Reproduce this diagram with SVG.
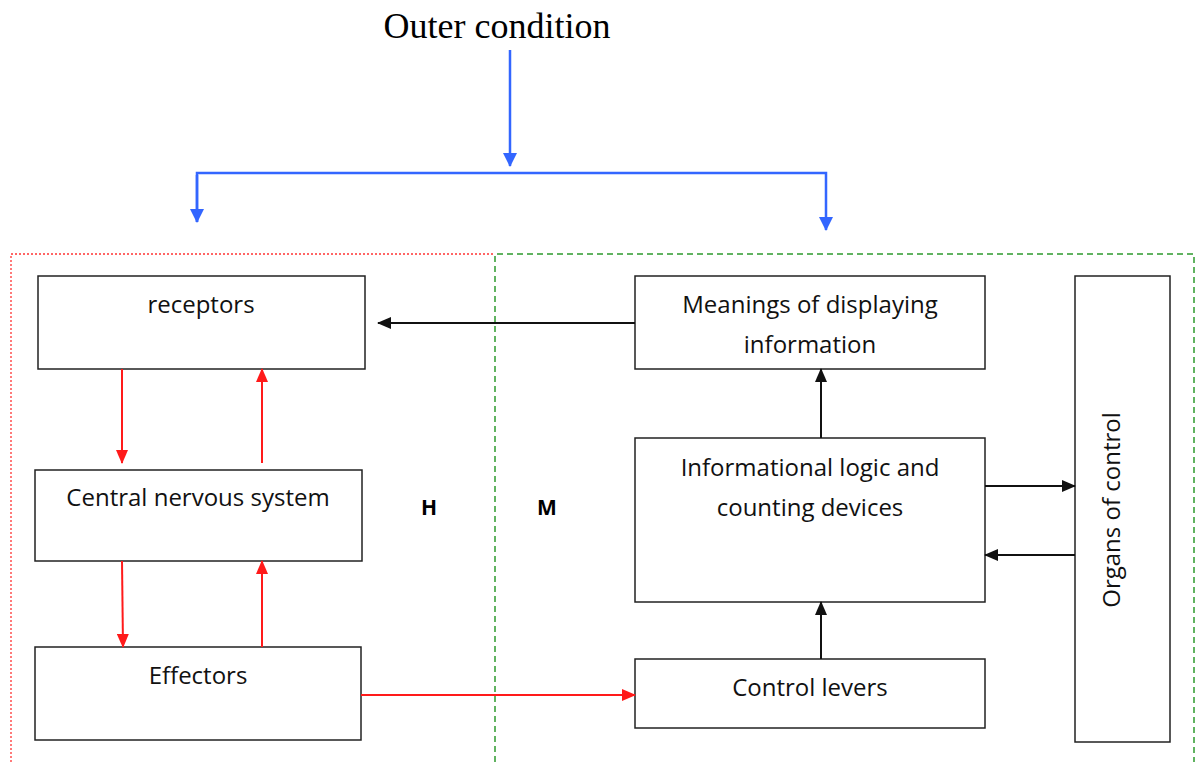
<svg xmlns="http://www.w3.org/2000/svg" width="1200" height="762" viewBox="0 0 1200 762">
  <style>
    .box { fill: #ffffff; stroke: #222222; stroke-width: 1.5; }
    .lbl { font-family: "Open Sans", "Liberation Sans", sans-serif; font-size: 24px; fill: #111111; text-anchor: middle; }
    .side { font-family: "Open Sans", "Liberation Sans", sans-serif; font-size: 21px; font-weight: bold; fill: #000000; text-anchor: middle; }
    .red { stroke: #ff1a1a; stroke-width: 2; fill: none; }
    .blk { stroke: #111111; stroke-width: 2; fill: none; }
    .blue { stroke: #3366ff; stroke-width: 2.5; fill: none; }
  </style>
  <defs>
    <marker id="ahRed" markerWidth="14" markerHeight="12" refX="13" refY="6" orient="auto" markerUnits="userSpaceOnUse" viewBox="0 0 14 12">
      <path d="M0,0 L14,6 L0,12 z" fill="#ff1a1a"/>
    </marker>
    <marker id="ahBlk" markerWidth="14" markerHeight="12" refX="13" refY="6" orient="auto" markerUnits="userSpaceOnUse" viewBox="0 0 14 12">
      <path d="M0,0 L14,6 L0,12 z" fill="#111111"/>
    </marker>
    <marker id="ahBlue" markerWidth="14" markerHeight="14" refX="13" refY="7" orient="auto" markerUnits="userSpaceOnUse" viewBox="0 0 14 14">
      <path d="M0,0 L14,7 L0,14 z" fill="#3366ff"/>
    </marker>
  </defs>
  <rect width="1200" height="762" fill="#ffffff"/>

  <!-- title -->
  <text id="outer" x="497" y="38" font-family="Liberation Serif, serif" font-size="36" fill="#000000" text-anchor="middle">Outer condition</text>

  <!-- region frames -->
  <g id="frames">
    <path d="M11,762 L11,254 L495,254" fill="none" stroke="#ff3333" stroke-width="1.3" stroke-dasharray="2,2"/>
    <path d="M495,762 L495,254 L1194,254 L1194,762" fill="none" stroke="#2e9a2e" stroke-width="1.5" stroke-dasharray="6,4"/>
  </g>

  <!-- human side -->
  <g id="receptors">
    <rect class="box" x="38" y="276" width="327" height="93"/>
    <text class="lbl" x="201" y="313">receptors</text>
  </g>
  <g id="cns">
    <rect class="box" x="35" y="470" width="327" height="91"/>
    <text class="lbl" x="198" y="506">Central nervous system</text>
  </g>
  <g id="effectors">
    <rect class="box" x="35" y="647" width="326" height="93"/>
    <text class="lbl" x="198" y="684">Effectors</text>
  </g>

  <!-- machine side -->
  <g id="display">
    <rect class="box" x="635" y="276" width="350" height="93"/>
    <text class="lbl" x="810" y="313">Meanings of displaying</text>
    <text class="lbl" x="810" y="353">information</text>
  </g>
  <g id="logic">
    <rect class="box" x="635" y="438" width="350" height="164"/>
    <text class="lbl" x="810" y="476">Informational logic and</text>
    <text class="lbl" x="810" y="516">counting devices</text>
  </g>
  <g id="levers">
    <rect class="box" x="635" y="659" width="350" height="69"/>
    <text class="lbl" x="810" y="696">Control levers</text>
  </g>
  <g id="organs">
    <rect class="box" x="1075" y="276" width="95" height="466"/>
    <text class="lbl" x="0" y="0" transform="translate(1120,510) rotate(-90)">Organs of control</text>
  </g>

  <!-- side letters -->
  <g id="labels">
    <text class="side" x="429" y="515">H</text>
    <text class="side" x="547" y="515">M</text>
  </g>

  <!-- connectors -->
  <g id="connectors">
    <!-- outer condition split -->
    <line class="blue" x1="510" y1="50" x2="510" y2="166" marker-end="url(#ahBlue)"/>
    <path class="blue" d="M197,222 L197,173 L826,173 L826,230" marker-end="url(#ahBlue)"/>
    <line class="blue" x1="197" y1="175" x2="197" y2="222" marker-end="url(#ahBlue)"/>

    <!-- receptors / CNS / effectors loop -->
    <line class="red" x1="122" y1="369" x2="122" y2="463" marker-end="url(#ahRed)"/>
    <line class="red" x1="262" y1="463" x2="262" y2="369" marker-end="url(#ahRed)"/>
    <line class="red" x1="122" y1="561" x2="123" y2="647" marker-end="url(#ahRed)"/>
    <line class="red" x1="262" y1="647" x2="262" y2="561" marker-end="url(#ahRed)"/>
    <line class="red" x1="361" y1="695" x2="635" y2="695" marker-end="url(#ahRed)"/>

    <!-- machine flows -->
    <line class="blk" x1="635" y1="323" x2="378" y2="323" marker-end="url(#ahBlk)"/>
    <line class="blk" x1="821" y1="438" x2="821" y2="369" marker-end="url(#ahBlk)"/>
    <line class="blk" x1="821" y1="659" x2="821" y2="602" marker-end="url(#ahBlk)"/>
    <line class="blk" x1="985" y1="486" x2="1075" y2="486" marker-end="url(#ahBlk)"/>
    <line class="blk" x1="1075" y1="555" x2="985" y2="555" marker-end="url(#ahBlk)"/>
  </g>
</svg>
